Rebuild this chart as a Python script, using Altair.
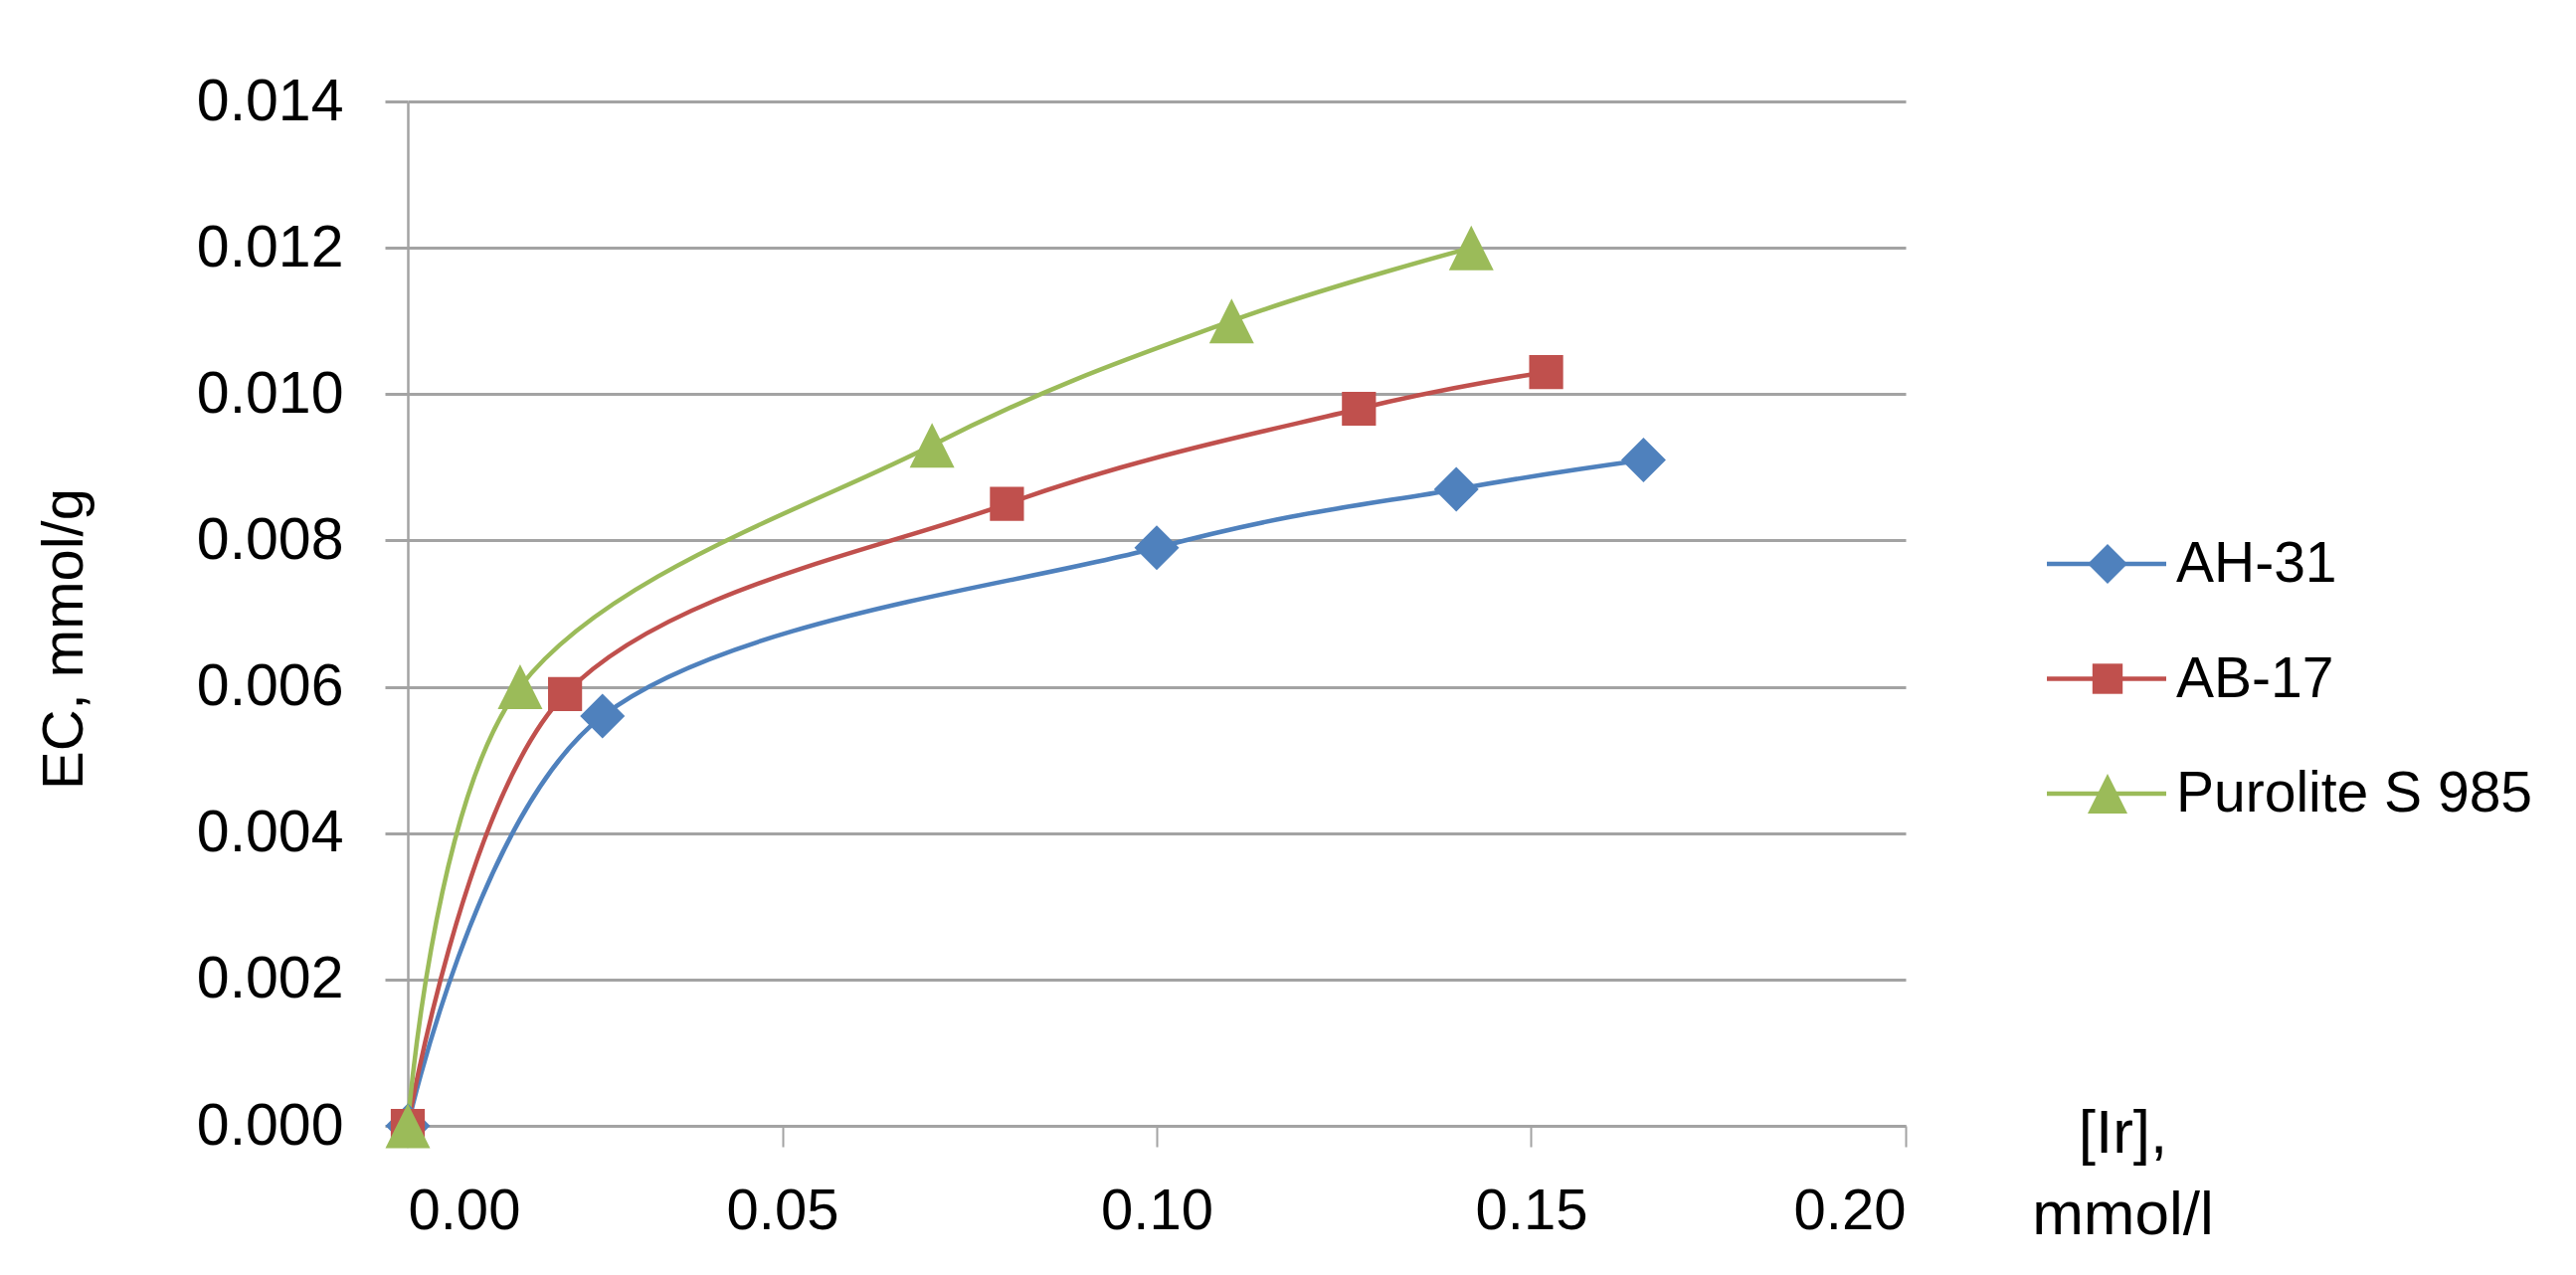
import altair as alt
import pandas as pd

# ---- data ----
series_names = ["AH-31", "AB-17", "Purolite S 985"]
ah31_x = [0.0, 0.026, 0.100, 0.140, 0.165]
ah31_y = [0.0, 0.0056, 0.0079, 0.0087, 0.0091]
ab17_x = [0.0, 0.021, 0.080, 0.127, 0.152]
ab17_y = [0.0, 0.0059, 0.0085, 0.0098, 0.0103]
pur_x = [0.0, 0.015, 0.070, 0.110, 0.142]
pur_y = [0.0, 0.0060, 0.0093, 0.0110, 0.0120]
x_ticks = [0.0, 0.05, 0.10, 0.15, 0.20]
y_ticks = [0.000, 0.002, 0.004, 0.006, 0.008, 0.010, 0.012, 0.014]

colors = ["#4F81BD", "#C0504D", "#9BBB59"]
# marker outlines (diamond, smaller square, triangle) in symbol units
shapes = [
    "M-1,0L0,-1L1,0L0,1Z",
    "M-0.76,-0.76L0.76,-0.76L0.76,0.76L-0.76,0.76Z",
    "M0,-1L1,1L-1,1Z",
]

rows = []
for name, xs, ys in zip(series_names, [ah31_x, ab17_x, pur_x], [ah31_y, ab17_y, pur_y]):
    for xv, yv in zip(xs, ys):
        rows.append({"series": name, "x": xv, "y": yv})
df = pd.DataFrame(rows)
legend_df = pd.DataFrame({"series": series_names})

GRID = "#a3a3a3"
FONT = "Liberation Sans"

color_enc = alt.Color("series:N", scale=alt.Scale(domain=series_names, range=colors), legend=None)
shape_enc = alt.Shape("series:N", scale=alt.Scale(domain=series_names, range=shapes), legend=None)

x_enc = alt.X(
    "x:Q",
    scale=alt.Scale(domain=[0, 0.2], nice=False, zero=True),
    axis=alt.Axis(
        values=x_ticks, format=".2f", grid=False,
        labelFont=FONT, labelFontSize=58, labelColor="black", labelPadding=36,
        tickSize=21, tickColor=GRID, tickWidth=2,
        domainColor=GRID, domainWidth=3,
        title=["[Ir],", "mmol/l"], titleFont=FONT, titleFontSize=62,
        titleFontWeight="normal", titleColor="black",
        titleX=1724, titleY=26, titleAlign="center", titleBaseline="alphabetic",
        titleAngle=0, titleLineHeight=82,
    ),
)
y_enc = alt.Y(
    "y:Q",
    scale=alt.Scale(domain=[0, 0.014], nice=False, zero=True),
    axis=alt.Axis(
        values=y_ticks, format=".3f", grid=True, gridColor=GRID, gridWidth=3,
        labelFont=FONT, labelFontSize=59, labelColor="black", labelPadding=42,
        tickSize=23, tickColor=GRID, tickWidth=3,
        domainColor=GRID, domainWidth=2.5,
        title="EC, mmol/g", titleFont=FONT, titleFontSize=58,
        titleFontWeight="normal", titleColor="black",
        titleX=-328, titleY=540, titleAngle=-90, titleAlign="center",
        titleBaseline="alphabetic",
    ),
)

base = alt.Chart(df)
lines = base.mark_line(interpolate="cardinal", strokeWidth=4.5).encode(
    x=x_enc, y=y_enc, color=color_enc, detail="series:N"
)
points = base.mark_point(filled=True, opacity=1, strokeWidth=0, size=2025).encode(
    x=x_enc, y=y_enc, color=color_enc, shape=shape_enc,
)
data_layer = alt.layer(lines, points)

leg_y = alt.Y(
    "series:N",
    scale=alt.Scale(type="point", domain=series_names, range=[465, 696], padding=0),
    axis=None,
)
leg_rule = alt.Chart(legend_df).mark_rule(strokeWidth=4.5).encode(
    y=leg_y, x=alt.value(1648), x2=alt.value(1768), color=color_enc
)
leg_pt = alt.Chart(legend_df).mark_point(filled=True, opacity=1, strokeWidth=0, size=1600).encode(
    y=leg_y, x=alt.value(1709), color=color_enc, shape=shape_enc,
)
leg_txt = alt.Chart(legend_df).mark_text(
    align="left", baseline="alphabetic", font=FONT, fontSize=57, color="black", dy=18
).encode(y=leg_y, x=alt.value(1778), text="series:N")
legend_layer = alt.layer(leg_rule, leg_pt, leg_txt)

chart = (
    alt.layer(data_layer, legend_layer)
    .resolve_scale(y="independent")
    .properties(
        width=1506,
        height=1030,
        autosize=alt.AutoSizeParams(type="none"),
        padding={"left": 402, "top": 94, "right": 660, "bottom": 135},
        background="white",
    )
    .configure_view(stroke=None)
)

chart.save("out.html", embed_options={"renderer": "svg", "actions": False})
